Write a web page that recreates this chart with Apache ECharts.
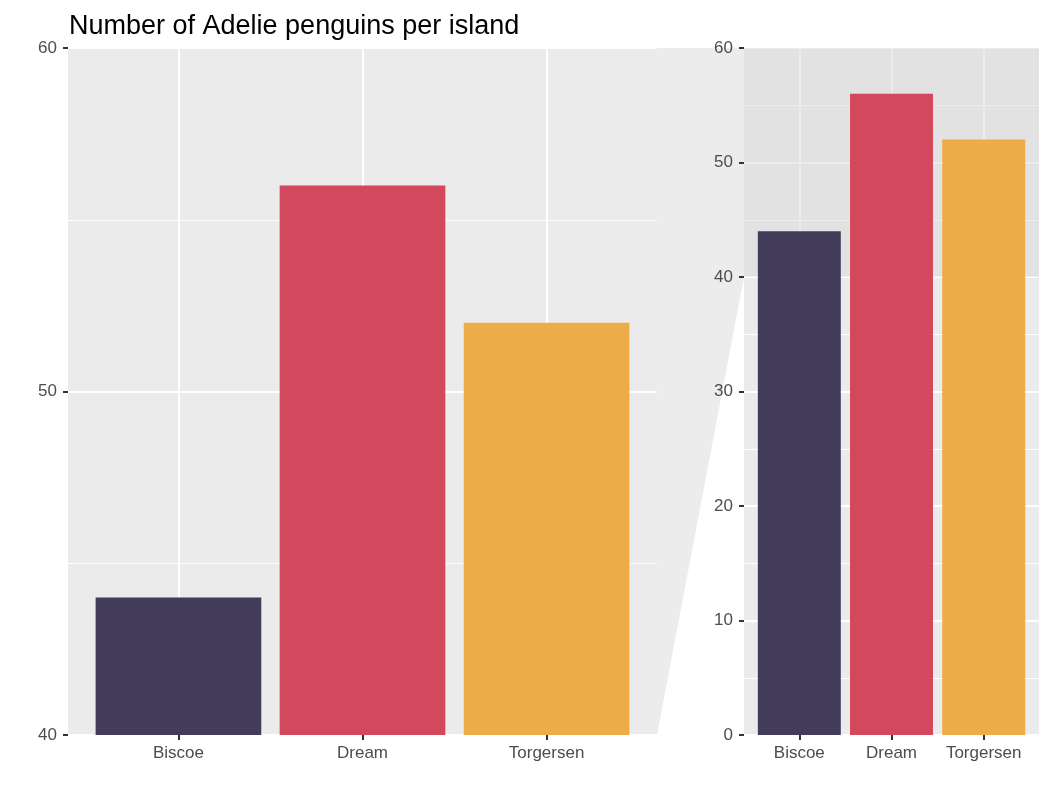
<!DOCTYPE html>
<html>
<head>
<meta charset="utf-8">
<script src="https://cdn.jsdelivr.net/npm/echarts@6/dist/echarts.min.js"></script>
<style>
  html, body { margin: 0; padding: 0; background: #ffffff; }
  #penguin_chart { width: 1050px; height: 800px; }
</style>
</head>
<body>
<div id="penguin_chart"></div>
<script>
// data
const islands = ['Biscoe', 'Dream', 'Torgersen'];
const adelieCounts = [44, 56, 52];
const islandColors = ['#423B59', '#D4485D', '#EEAC49'];
const zoomRange = [40, 60];   // y range shown in the left (zoomed) panel
const fullRange = [0, 60];
const yTicksZoom = [40, 50, 60];
const yTicksFull = [0, 10, 20, 30, 40, 50, 60];

const fontFamily = 'Liberation Sans, Arial, sans-serif';
const panelBg = '#EBEBEB';

// bars get x positions 1..n, ggplot-like 0.6 expansion on each side
const barData = islands.map((name, i) => ({
  value: [i + 1, adelieCounts[i]],
  itemStyle: { color: islandColors[i] }
}));
const xPositions = islands.map((_, i) => i + 1);

function makeXAxis(gridIndex) {
  return {
    type: 'value',
    gridIndex: gridIndex,
    min: 0.4,
    max: islands.length + 0.6,
    axisLine: { show: false },
    axisTick: {
      show: true,
      customValues: xPositions,
      length: 5,
      lineStyle: { color: '#333333', width: 2 }
    },
    axisLabel: {
      customValues: xPositions,
      formatter: (v) => islands[Math.round(v) - 1] || '',
      color: '#4D4D4D',
      fontSize: 17,
      fontFamily: fontFamily,
      margin: 10
    },
    splitLine: { show: true, lineStyle: { color: '#FFFFFF', width: 2 } }
  };
}

function makeYAxis(gridIndex, range, ticks) {
  return {
    type: 'value',
    gridIndex: gridIndex,
    min: range[0],
    max: range[1],
    interval: ticks[1] - ticks[0],
    axisLine: { show: false },
    axisTick: { show: true, length: 5, lineStyle: { color: '#333333', width: 2 } },
    axisLabel: {
      color: '#4D4D4D',
      fontSize: 17,
      fontFamily: fontFamily,
      margin: 11
    },
    splitLine: { show: true, lineStyle: { color: '#FFFFFF', width: 2 } },
    minorTick: { show: false, splitNumber: 2 },
    minorSplitLine: { show: true, lineStyle: { color: '#FFFFFF', width: 1 } }
  };
}

const option = {
  animation: false,
  backgroundColor: '#FFFFFF',
  title: {
    text: 'Number of Adelie penguins per island',
    left: 64,
    top: 8,
    textStyle: { color: '#000000', fontSize: 27, fontWeight: 'normal', fontFamily: fontFamily }
  },
  grid: [
    { left: 68, top: 48, width: 589, height: 687, show: true, backgroundColor: panelBg, borderWidth: 0 },
    { left: 744, top: 48, width: 295, height: 687, show: true, backgroundColor: panelBg, borderWidth: 0 }
  ],
  xAxis: [makeXAxis(0), makeXAxis(1)],
  yAxis: [makeYAxis(0, zoomRange, yTicksZoom), makeYAxis(1, fullRange, yTicksFull)],
  series: [
    {
      name: 'zoomed',
      type: 'bar',
      xAxisIndex: 0,
      yAxisIndex: 0,
      barWidth: '90%',
      clip: true,
      z: 2,
      data: barData
    },
    {
      // carries the zoom-area highlight on the full panel
      name: 'zoom area',
      type: 'line',
      xAxisIndex: 1,
      yAxisIndex: 1,
      data: [],
      z: 1,
      silent: true,
      markArea: {
        silent: true,
        itemStyle: { color: 'rgba(217,217,217,0.5)' },
        data: [[{ yAxis: zoomRange[0] }, { yAxis: zoomRange[1] }]]
      }
    },
    {
      name: 'full',
      type: 'bar',
      xAxisIndex: 1,
      yAxisIndex: 1,
      barWidth: '90%',
      z: 2,
      data: barData
    }
  ]
};

const chartDom = document.getElementById('penguin_chart');
const myChart = echarts.init(chartDom, null, { renderer: 'canvas' });
myChart.setOption(option);

// connector between zoomed panel and zoom area, placed via the axes
const xMin = option.xAxis[0].min;
const xMax = option.xAxis[0].max;
const pTop = myChart.convertToPixel({ gridIndex: 0 }, [xMax, zoomRange[1]]);
const pBottom = myChart.convertToPixel({ gridIndex: 0 }, [xMax, zoomRange[0]]);
const qTop = myChart.convertToPixel({ gridIndex: 1 }, [xMin, zoomRange[1]]);
const qBottom = myChart.convertToPixel({ gridIndex: 1 }, [xMin, zoomRange[0]]);

myChart.setOption({
  graphic: [{
    type: 'polygon',
    z: -1,
    silent: true,
    shape: { points: [pTop, qTop, qBottom, pBottom] },
    style: { fill: 'rgba(217,217,217,0.5)' }
  }]
});
</script>
</body>
</html>
